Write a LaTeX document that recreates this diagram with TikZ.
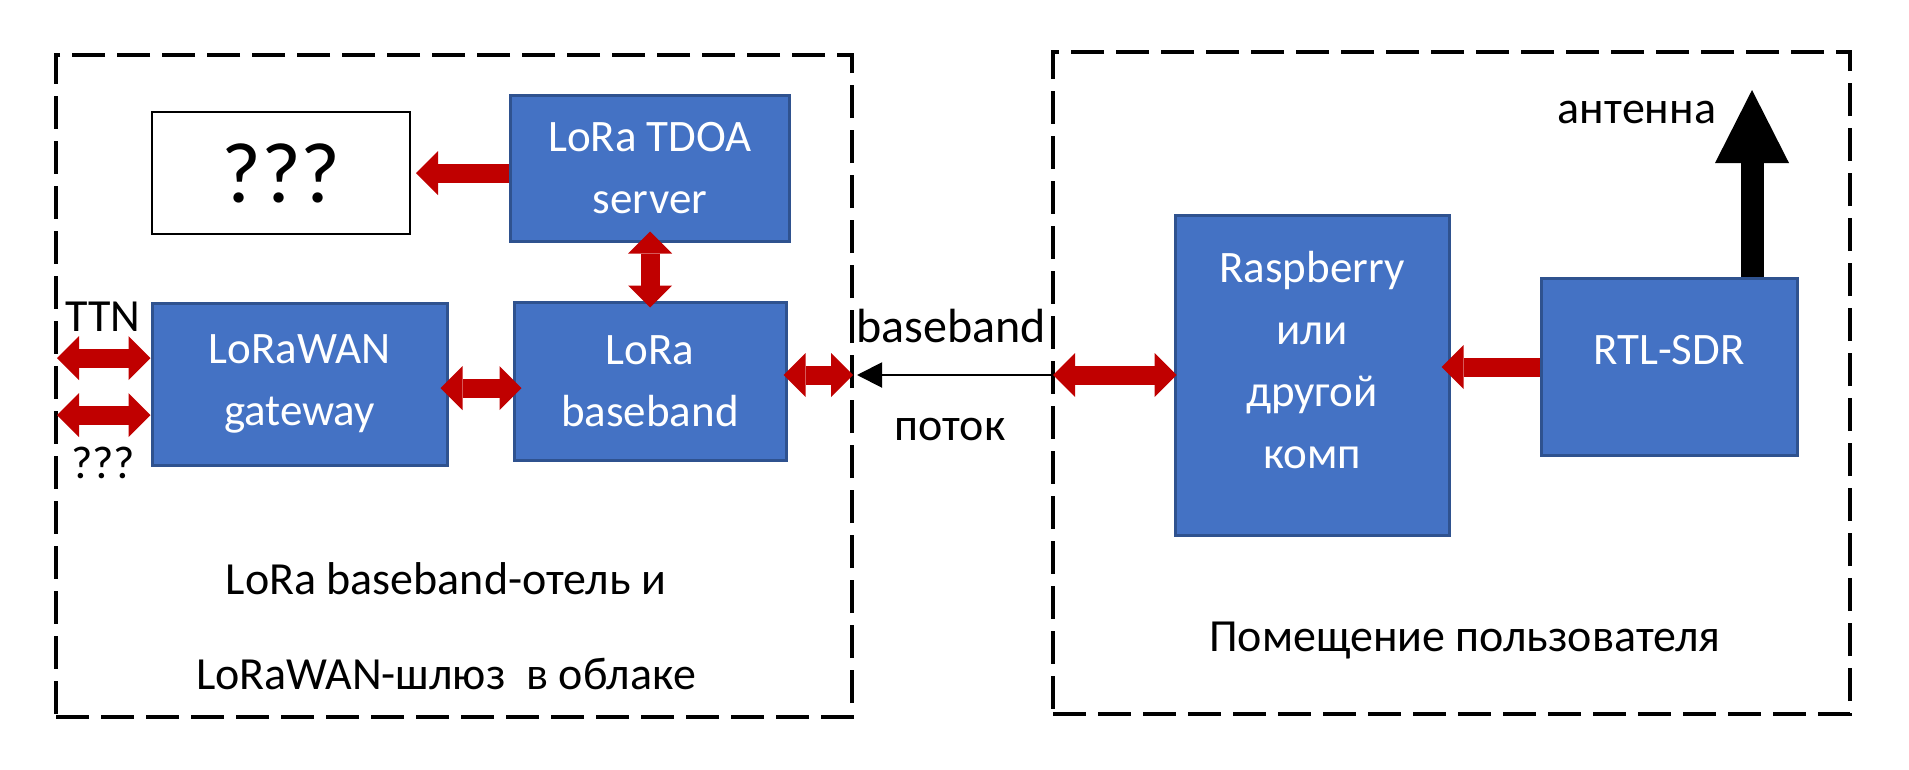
\documentclass[tikz,border=0pt]{standalone}
\usepackage{fontspec}
\setmainfont{Carlito}
\usetikzlibrary{arrows.meta}

\definecolor{boxblue}{HTML}{4472C4}
\definecolor{boxedge}{HTML}{2F528F}
\definecolor{linkred}{HTML}{C00000}

\newcommand{\liftup}[2]{\raisebox{#1}[\height][\depth]{#2}}

\begin{document}
\begin{tikzpicture}[x=1pt, y=-1pt,
    zone/.style={draw, line width=4pt, dash pattern=on 33pt off 12pt, inner sep=0pt},
    block/.style={rectangle, draw=boxedge, fill=boxblue, line width=3pt, text=white, align=center, inner sep=0pt, font=\fontsize{45}{62}\selectfont},
    unknown/.style={rectangle, draw, line width=2pt, inner sep=0pt, font=\fontsize{86}{100}\selectfont},
    lbl/.style={font=\fontsize{46}{62}\selectfont, inner sep=0pt},
    redhead/.tip={Triangle[length=22pt, width=44pt, line width=0pt]},
    link/.style={draw=linkred, line width=19pt, -redhead},
    duplex/.style={draw=linkred, line width=19pt, redhead-redhead},
    flow/.style={line width=2pt, -{Triangle[length=25pt, width=25pt]}},
    antenna/.style={line width=23pt, -{Triangle[length=73pt, width=74pt, line width=0pt]}}
]
\useasboundingbox (0,0) rectangle (1909,769);

% the two places
\node[zone, minimum width=796pt, minimum height=662pt] (cloud) at (454,386) {};
\node[zone, minimum width=797pt, minimum height=662pt] (home) at (1451.5,383) {};

% cloud side
\node[unknown, minimum width=258pt, minimum height=122pt] (result) at (281,173) {???};
\node[block, minimum width=279pt, minimum height=146pt] (tdoa) at (650,168) {LoRa TDOA\\server};
\node[block, minimum width=295pt, minimum height=162pt] (gw) at (299.5,384) {LoRaWAN\\gateway};
\node[block, minimum width=272pt, minimum height=158pt] (bb) at (650,381) {LoRa\\baseband};

% user side
\node[block, minimum width=274pt, minimum height=320pt] (rpi) at (1312,375) {\liftup{12pt}{\begin{tabular}{@{}c@{}}Raspberry\\или\\другой\\комп\end{tabular}}};
\node[block, minimum width=256pt, minimum height=177pt] (sdr) at (1669,367) {\liftup{17pt}{RTL-SDR}};

% free ends
\coordinate (ttnin) at (57,358);
\coordinate (othin) at (57,415);
\coordinate (cloudout) at (853,375);
\coordinate (homein) at (1053,375);
\coordinate (anttip) at (1752,90);

% links
\draw[link] (tdoa.west |- result.east) -- ([xshift=5pt]result.east);
\draw[duplex] ([yshift=11pt]tdoa.south) -- ([yshift=-7pt]bb.north);
\draw[duplex] ([xshift=-8pt,yshift=-4pt]gw.east) -- ([xshift=9pt,yshift=-7pt]bb.west);
\draw[duplex] (ttnin) -- (gw.west |- ttnin);
\draw[duplex] (othin) -- (gw.west |- othin);
\draw[duplex] ([xshift=-4pt,yshift=6pt]bb.east) -- (cloudout);
\draw[flow] (homein) -- ([xshift=4pt]cloudout);
\draw[duplex] (homein) -- ([xshift=3pt]rpi.west);
\draw[link] (sdr.west) -- ([xshift=-9pt,yshift=8pt]rpi.east);
\draw[antenna] ([xshift=83pt]sdr.north) -- (anttip);

% labels
\node[lbl] (ttn) at (103,317) {TTN};
\node[lbl] (other) at (103,463) {???};
\node[lbl, font=\fontsize{48}{62}\selectfont] (bbtop) at (951,326) {baseband};
\node[lbl] (bbbot) at (950,429) {поток};
\node[lbl] (ant) at (1637,112) {антенна};
\node[lbl, font=\fontsize{46}{95}\selectfont, align=center] (cloudname) at (446,626) {LoRa baseband-отель и\\LoRaWAN-шлюз\ \ в облаке};
\node[lbl] (homename) at (1465,641) {Помещение пользователя};
\end{tikzpicture}
\end{document}
